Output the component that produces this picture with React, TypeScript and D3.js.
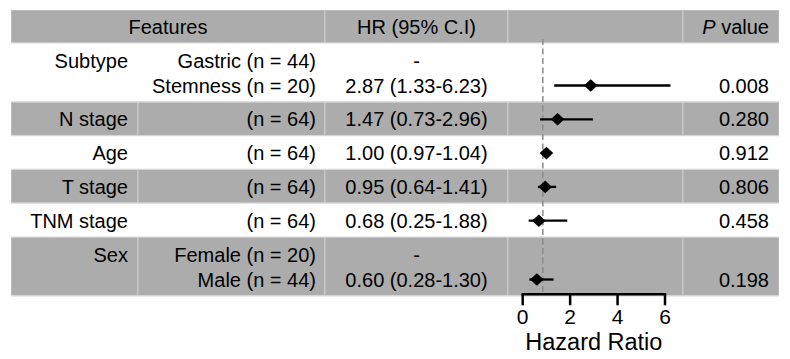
import React from "react";
import * as d3 from "d3";

const features = ["Subtype", "N stage", "Age", "T stage", "TNM stage", "Sex"];
const levels = [
  ["Gastric (n = 44)", "Stemness (n = 20)"],
  ["(n = 64)"],
  ["(n = 64)"],
  ["(n = 64)"],
  ["(n = 64)"],
  ["Female (n = 20)", "Male (n = 44)"],
];
const hr = [2.87, 1.47, 1.0, 0.95, 0.68, 0.6];
const lower = [1.33, 0.73, 0.97, 0.64, 0.25, 0.28];
const upper = [6.23, 2.96, 1.04, 1.41, 1.88, 1.3];
const pValues = ["0.008", "0.280", "0.912", "0.806", "0.458", "0.198"];
const axisTicks = [0, 2, 4, 6];
const refLine = 0.85;

const W = 790;
const H = 359;
const FONT = "'Liberation Sans', Arial, Helvetica, sans-serif";
const GRAY = "#acacac";
const colX = [11, 138, 325, 508, 683, 779];
const top = 10;
const headerH = 33;
const singleH = 33.8;
const lineH = 25;
const fs = 20;

export default function App() {
  const x = d3.scaleLinear().domain([0, 6]).range([522.7, 665]);

  const rows: { y: number; h: number; lines: number[] }[] = [];
  let y = top + headerH;
  levels.forEach((lv) => {
    const h = singleH + (lv.length - 1) * lineH;
    const lines = lv.map((_, i) => y + 17.5 + i * lineH);
    rows.push({ y, h, lines });
    y += h;
  });
  const tableBottom = y;
  const axisY = tableBottom - 1.5;

  const cellStroke = { stroke: "#ffffff", strokeOpacity: 0.3, strokeWidth: 1.2 };

  return (
    <svg
      width={W}
      height={H}
      style={{ position: "absolute", left: 0, top: 0, display: "block" }}
      fontFamily={FONT}
    >
      <rect x={0} y={0} width={W} height={H} fill="#ffffff" />
      <g>
        <rect x={colX[0]} y={top} width={colX[2] - colX[0]} height={headerH} fill={GRAY} {...cellStroke} />
        {[2, 3, 4].map((c) => (
          <rect key={c} x={colX[c]} y={top} width={colX[c + 1] - colX[c]} height={headerH} fill={GRAY} {...cellStroke} />
        ))}
        <text x={(colX[0] + colX[2]) / 2} y={top + headerH / 2} dy="0.35em" textAnchor="middle" fontSize={fs}>
          Features
        </text>
        <text x={(colX[2] + colX[3]) / 2} y={top + headerH / 2} dy="0.35em" textAnchor="middle" fontSize={fs}>
          HR (95% C.I)
        </text>
        <text x={colX[5] - 10} y={top + headerH / 2} dy="0.35em" textAnchor="end" fontSize={fs}>
          <tspan fontStyle="italic">P</tspan> value
        </text>
      </g>
      {rows.map((r, i) => {
        const gray = i % 2 === 1;
        const fill = gray ? GRAY : "#ffffff";
        const last = r.lines[r.lines.length - 1];
        const ciText = `${hr[i].toFixed(2)} (${lower[i].toFixed(2)}-${upper[i].toFixed(2)})`;
        return (
          <g key={i}>
            {[0, 1, 2, 3, 4].map((c) => (
              <rect
                key={c}
                x={colX[c]}
                y={r.y}
                width={colX[c + 1] - colX[c]}
                height={r.h}
                fill={fill}
                stroke="#ffffff"
                strokeOpacity={gray ? 0.3 : 0}
                strokeWidth={1.2}
              />
            ))}
            <line x1={colX[0]} x2={colX[5]} y1={r.y} y2={r.y} stroke="#d8d8d8" strokeWidth={1.2} />
            <text x={colX[1] - 10} y={r.lines[0]} dy="0.35em" textAnchor="end" fontSize={fs}>
              {features[i]}
            </text>
            {levels[i].map((lv, j) => (
              <text key={j} x={colX[2] - 9} y={r.lines[j]} dy="0.35em" textAnchor="end" fontSize={fs}>
                {lv}
              </text>
            ))}
            {levels[i].length > 1 && (
              <text x={(colX[2] + colX[3]) / 2} y={r.lines[0]} dy="0.35em" textAnchor="middle" fontSize={fs}>
                -
              </text>
            )}
            <text x={(colX[2] + colX[3]) / 2} y={last} dy="0.35em" textAnchor="middle" fontSize={fs}>
              {ciText}
            </text>
            <text x={colX[5] - 10} y={last} dy="0.35em" textAnchor="end" fontSize={fs}>
              {pValues[i]}
            </text>
          </g>
        );
      })}
      <line x1={colX[0]} x2={colX[5]} y1={tableBottom} y2={tableBottom} stroke="#d8d8d8" strokeWidth={1.2} />
      <line
        x1={x(refLine)}
        x2={x(refLine)}
        y1={top + headerH - 4}
        y2={axisY}
        stroke="#8c8c8c"
        strokeWidth={1.5}
        strokeDasharray="6,3.5"
      />
      {rows.map((r, i) => {
        const cy = r.lines[r.lines.length - 1];
        const cx = x(hr[i]);
        const dw = 6.8;
        const dh = 6.3;
        return (
          <g key={i}>
            <line x1={x(lower[i])} x2={x(upper[i])} y1={cy} y2={cy} stroke="#000" strokeWidth={2.3} />
            <path
              d={`M${cx - dw},${cy} L${cx},${cy - dh} L${cx + dw},${cy} L${cx},${cy + dh} Z`}
              fill="#000"
            />
          </g>
        );
      })}
      <g>
        <line x1={x(0) - 1.2} x2={x(6) + 1.2} y1={axisY} y2={axisY} stroke="#000" strokeWidth={2.5} />
        {axisTicks.map((t) => (
          <g key={t}>
            <line x1={x(t)} x2={x(t)} y1={axisY} y2={axisY + 11} stroke="#000" strokeWidth={2.5} />
            <text x={x(t)} y={axisY + 22.5} dy="0.35em" textAnchor="middle" fontSize={21}>
              {t}
            </text>
          </g>
        ))}
        <text x={(x(0) + x(6)) / 2} y={axisY + 47} dy="0.35em" textAnchor="middle" fontSize={23.5}>
          Hazard Ratio
        </text>
      </g>
    </svg>
  );
}
